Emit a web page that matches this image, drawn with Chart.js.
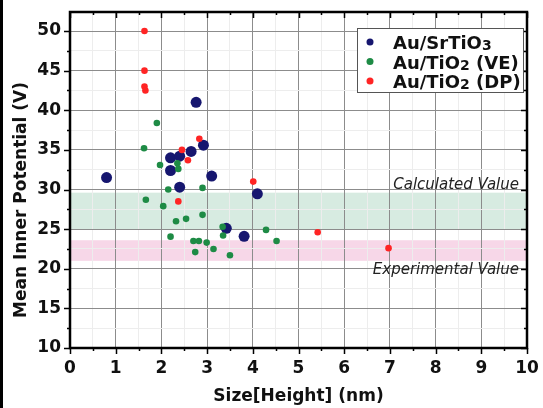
<!DOCTYPE html>
<html>
<head>
<meta charset="utf-8">
<script src="https://cdn.jsdelivr.net/npm/chart.js@4.4.0/dist/chart.umd.min.js"></script>
<style>
  html, body { margin: 0; padding: 0; background: #fff; }
  #wrap { width: 543px; height: 408px; }
</style>
</head>
<body>
<div id="wrap"><canvas id="myChart"></canvas></div>
<script>
// Au/SrTiO3: size (nm) and mean inner potential (V)
const srtioX = [0.8, 2.2, 2.2, 2.4, 2.4, 2.65, 2.76, 2.92, 3.1, 3.42, 3.81, 4.1];
const srtioY = [31.5, 34.0, 32.4, 34.2, 30.3, 34.8, 41.0, 35.6, 31.7, 25.1, 24.1, 29.45];

// Au/TiO2 (VE)
const veX = [1.62, 1.66, 1.90, 1.97, 2.04, 2.15, 2.20, 2.32, 2.35, 2.37, 2.54, 2.70,
  2.74, 2.82, 2.90, 2.90, 2.99, 3.14, 3.34, 3.35, 3.50, 4.29, 4.52];
const veY = [35.2, 28.7, 38.4, 33.1, 27.9, 30.0, 24.05, 26.0, 33.3, 32.6, 26.3, 23.5,
  22.1, 23.5, 30.2, 26.8, 23.3, 22.5, 25.3, 24.2, 21.7, 24.9, 23.5];

// Au/TiO2 (DP)
const dpX = [1.63, 1.63, 1.63, 1.65, 2.37, 2.45, 2.58, 2.83, 4.01, 5.42, 6.97];
const dpY = [50.0, 45.0, 43.0, 42.5, 28.5, 35.0, 33.7, 36.4, 31.0, 24.6, 22.6];

// labelled ticks
const xMajor = [0, 1, 2, 3, 4, 5, 6, 7, 8, 9, 10];
const yMajor = [10, 15, 20, 25, 30, 35, 40, 45, 50];

// shaded ranges [low, high]
const calcBand = [25.0, 29.6];
const expBand = [21.0, 23.6];
const bandLabels = ['Calculated Value', 'Experimental Value'];

// legend text split as [main, subscript, rest]
const legendParts = [['Au/SrTiO', '3', ''], ['Au/TiO', '2', ' (VE)'], ['Au/TiO', '2', ' (DP)']];

const BLUE = '#16166f';
const GREEN = '#1e8b45';
const RED = '#ff2424';
const FONT = 'DejaVu Sans';

function pts(xs, ys) {
  return xs.map((x, i) => ({ x: x, y: ys[i] }));
}

const framePlugin = {
  id: 'frame',
  beforeDraw(chart) {
    const ctx = chart.ctx, a = chart.chartArea, y = chart.scales.y;
    ctx.save();
    ctx.fillStyle = '#fff';
    ctx.fillRect(0, 0, chart.width, chart.height);
    ctx.fillStyle = '#000';
    ctx.fillRect(0, 0, 3, chart.height);
    // bands under the grid
    let t = y.getPixelForValue(calcBand[1]), b = y.getPixelForValue(calcBand[0]);
    ctx.fillStyle = '#d7ebe1';
    ctx.fillRect(a.left, t, a.width, b - t);
    t = y.getPixelForValue(expBand[1]); b = y.getPixelForValue(expBand[0]);
    ctx.fillStyle = '#f7d7e8';
    ctx.fillRect(a.left, t, a.width, b - t);
    ctx.restore();
  },
  afterDatasetsDraw(chart) {
    const ctx = chart.ctx, a = chart.chartArea;
    const xs = chart.scales.x, ys = chart.scales.y;
    ctx.save();

    // band captions
    ctx.fillStyle = '#222';
    ctx.font = 'italic 15px ' + FONT;
    ctx.textAlign = 'right';
    ctx.textBaseline = 'alphabetic';
    ctx.fillText(bandLabels[0], a.right - 8, ys.getPixelForValue(calcBand[1]) - 4);
    ctx.fillText(bandLabels[1], a.right - 8, ys.getPixelForValue(expBand[0]) + 13);

    // frame and tick marks (outward bottom/left, inward top/right)
    ctx.strokeStyle = '#000';
    ctx.lineWidth = 1.5;
    ctx.beginPath();
    xs.ticks.forEach(tk => {
      const px = Math.round(xs.getPixelForValue(tk.value)) + 0.5;
      const len = xMajor.includes(tk.value) ? 6 : 3;
      ctx.moveTo(px, a.bottom); ctx.lineTo(px, a.bottom + len);
      ctx.moveTo(px, a.top); ctx.lineTo(px, a.top + len);
    });
    ys.ticks.forEach(tk => {
      const py = Math.round(ys.getPixelForValue(tk.value)) + 0.5;
      const len = yMajor.includes(tk.value) ? 6 : 3;
      ctx.moveTo(a.left - len, py); ctx.lineTo(a.left, py);
      ctx.moveTo(a.right - len, py); ctx.lineTo(a.right, py);
    });
    ctx.stroke();
    ctx.lineWidth = 2.5;
    ctx.strokeRect(a.left, a.top, a.right - a.left, a.bottom - a.top);

    // legend box
    const lx = 357, ly = 28, lw = 166, lh = 64;
    ctx.fillStyle = '#fff';
    ctx.fillRect(lx, ly, lw, lh);
    ctx.lineWidth = 1;
    ctx.strokeStyle = '#555';
    ctx.strokeRect(lx + 0.5, ly + 0.5, lw, lh);
    chart.data.datasets.forEach((ds, i) => {
      const cy = ly + 14 + i * 19.5;
      ctx.fillStyle = ds.backgroundColor;
      ctx.beginPath();
      ctx.arc(lx + 13, cy, 3.5, 0, Math.PI * 2);
      ctx.fill();
      const p = legendParts[i];
      let tx = lx + 36;
      ctx.fillStyle = '#111';
      ctx.textAlign = 'left';
      ctx.font = 'bold 18px ' + FONT;
      ctx.fillText(p[0], tx, cy + 7);
      tx += ctx.measureText(p[0]).width;
      ctx.font = 'bold 14px ' + FONT;
      ctx.fillText(p[1], tx, cy + 8);
      tx += ctx.measureText(p[1]).width;
      ctx.font = 'bold 18px ' + FONT;
      ctx.fillText(p[2], tx, cy + 7);
    });

    // y axis title
    ctx.translate(22, 200);
    ctx.rotate(-Math.PI / 2);
    ctx.fillStyle = '#111';
    ctx.font = 'bold 17px ' + FONT;
    ctx.textAlign = 'center';
    ctx.textBaseline = 'middle';
    ctx.fillText('Mean Inner Potential (V)', 0, 0);
    ctx.restore();
  }
};

const tickFont = { family: FONT, weight: 'bold', size: 17 };

const ctx1 = document.getElementById('myChart').getContext('2d');
const myChart = new Chart(ctx1, {
  type: 'scatter',
  data: {
    datasets: [
      { label: 'Au/SrTiO₃', data: pts(srtioX, srtioY), backgroundColor: BLUE,
        pointRadius: 5.5, borderWidth: 0, order: 3 },
      { label: 'Au/TiO₂ (VE)', data: pts(veX, veY), backgroundColor: GREEN,
        pointRadius: 3.3, borderWidth: 0, order: 2 },
      { label: 'Au/TiO₂ (DP)', data: pts(dpX, dpY), backgroundColor: RED,
        pointRadius: 3.3, borderWidth: 0, order: 1 }
    ]
  },
  options: {
    responsive: true,
    maintainAspectRatio: false,
    devicePixelRatio: 1,
    animation: false,
    layout: { padding: { left: 0, top: 12, right: 16, bottom: 0 } },
    plugins: { legend: { display: false }, tooltip: { enabled: false } },
    scales: {
      x: {
        type: 'linear', min: 0, max: 10,
        ticks: {
          stepSize: 0.5, autoSkip: false, maxRotation: 0, padding: 10,
          font: tickFont, color: '#111',
          callback: v => (xMajor.includes(v) ? v : '')
        },
        grid: {
          drawTicks: false,
          color: c => (xMajor.includes(c.tick.value) ? '#8c8c8c' : '#ededed')
        },
        border: { display: false },
        title: {
          display: true, text: 'Size[Height] (nm)', color: '#111',
          font: tickFont, padding: { top: 0, bottom: 1 }
        },
        afterFit(s) { s.height = 60; s.paddingLeft = 0; s.paddingRight = 0; }
      },
      y: {
        min: 10, max: 52.4,
        ticks: {
          stepSize: 2.5, includeBounds: false, autoSkip: false, padding: 9,
          font: tickFont, color: '#111',
          callback: v => (yMajor.includes(v) ? v : '')
        },
        grid: {
          drawTicks: false,
          color: c => (yMajor.includes(c.tick.value) ? '#8c8c8c' : '#ededed')
        },
        border: { display: false },
        afterFit(s) { s.width = 70; s.paddingTop = 0; s.paddingBottom = 0; }
      }
    }
  },
  plugins: [framePlugin]
});
</script>
</body>
</html>
